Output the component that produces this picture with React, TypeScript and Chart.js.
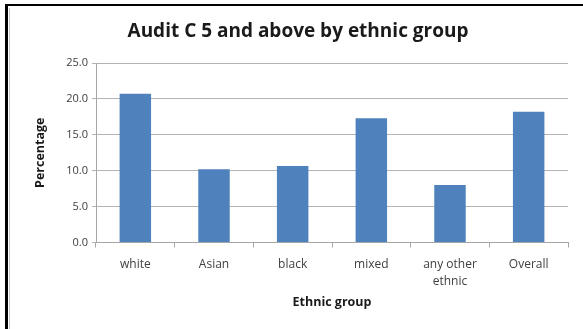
import React, { useEffect, useRef } from "react";
import { Chart, registerables } from "chart.js";

Chart.register(...registerables);

const categories: (string | string[])[] = ["white", "Asian", "black", "mixed", ["any other", "ethnic"], "Overall"];
const percentages: number[] = [20.7, 10.2, 10.65, 17.3, 8.0, 18.2];
const yTicks: number[] = [0, 5, 10, 15, 20, 25];

const FONT = "'Open Sans', 'DejaVu Sans', sans-serif";

export default function App() {
  const ref = useRef<HTMLCanvasElement | null>(null);

  useEffect(() => {
    document.body.style.margin = "0";
    const ctx = ref.current!.getContext("2d")!;
    const chart = new Chart(ctx, {
      type: "bar",
      data: {
        labels: categories,
        datasets: [
          {
            data: percentages,
            backgroundColor: "#4F81BD",
            borderWidth: 0,
            barPercentage: 0.4,
            categoryPercentage: 1,
          },
        ],
      },
      options: {
        animation: false,
        responsive: false,
        maintainAspectRatio: false,
        layout: { padding: { left: 28, right: 15, top: 0, bottom: 17 } },
        plugins: {
          legend: { display: false },
          tooltip: { enabled: false },
          title: {
            display: true,
            text: "Audit C 5 and above by ethnic group",
            color: "#1a1a1a",
            font: { family: FONT, size: 19, weight: "bold", lineHeight: 1.2 },
            padding: { top: 20.6, bottom: 19.6 },
          },
        },
        scales: {
          x: {
            offset: true,
            grid: {
              display: true,
              drawOnChartArea: false,
              drawTicks: true,
              tickLength: 5,
              offset: true,
              color: "#a6a6a6",
            },
            border: { display: true, color: "#a6a6a6", width: 1 },
            ticks: {
              color: "#404040",
              font: { family: FONT, size: 12, lineHeight: "17px" },
              padding: 9,
              maxRotation: 0,
              autoSkip: false,
            },
            title: {
              display: true,
              text: "Ethnic group",
              color: "#1a1a1a",
              font: { family: FONT, size: 12.5, weight: "bold", lineHeight: 1.2 },
              padding: { top: 4, bottom: 2 },
            },
            afterFit: (scale: any) => {
              scale.height = 69.5;
            },
          },
          y: {
            min: 0,
            max: 25,
            afterBuildTicks: (scale: any) => {
              scale.ticks = yTicks.map((v) => ({ value: v }));
            },
            grid: {
              color: "#b3b3b3",
              drawTicks: true,
              tickLength: 4,
            },
            border: { display: true, color: "#a6a6a6", width: 1 },
            ticks: {
              color: "#404040",
              font: { family: FONT, size: 11 },
              padding: 4,
              callback: (v: any) => Number(v).toFixed(1),
            },
            title: {
              display: true,
              text: "Percentage",
              color: "#1a1a1a",
              font: { family: FONT, size: 12.5, weight: "bold", lineHeight: 1.2 },
              padding: { top: 5, bottom: 0 },
            },
            afterFit: (scale: any) => {
              scale.width = 68;
            },
          },
        },
      },
    });
    return () => chart.destroy();
  }, []);

  return (
    <div style={{ position: "fixed", left: 0, top: 0, width: 583, height: 329, background: "#ffffff" }}>
      <canvas ref={ref} width={583} height={329} style={{ position: "absolute", left: 0, top: 0, width: 583, height: 329 }} />
      <div style={{ position: "absolute", left: 5, top: 4, right: 0, height: 2, background: "#000" }} />
      <div style={{ position: "absolute", left: 5, top: 4, bottom: 0, width: 3, background: "#000" }} />
      <div style={{ position: "absolute", left: 9, top: 8, bottom: 0, width: 1, background: "#c8c8c8" }} />
    </div>
  );
}
